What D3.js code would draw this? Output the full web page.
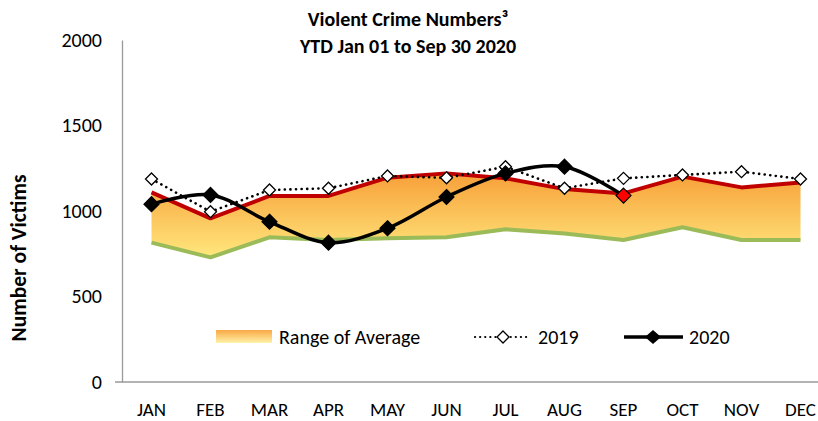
<!DOCTYPE html>
<html>
<head>
<meta charset="utf-8">
<script src="https://cdn.jsdelivr.net/npm/d3@7/dist/d3.min.js"></script>
<style>
  html, body { margin: 0; padding: 0; background: #fff; }
  svg { display: block; font-family: Carlito, Calibri, Lato, "Open Sans", sans-serif; }
</style>
</head>
<body>
<svg id="chart" width="818" height="421"></svg>
<script>
const months = ["JAN","FEB","MAR","APR","MAY","JUN","JUL","AUG","SEP","OCT","NOV","DEC"];
const avgHigh = [1109, 957, 1088, 1088, 1195, 1220, 1191, 1128, 1103, 1201, 1138, 1166];
const avgLow  = [815, 729, 846, 830, 840, 846, 893, 869, 830, 905, 830, 830];
const v2019   = [1187, 996, 1123, 1133, 1205, 1194, 1259, 1133, 1191, 1211, 1230, 1187];
const v2020   = [1040, 1094, 937, 815, 899, 1082, 1220, 1259, 1090];
const yTicks  = [0, 500, 1000, 1500, 2000];
const titleLines = ["Violent Crime Numbers\u00B3", "YTD Jan 01 to Sep 30 2020"];
const yLabel = "Number of Victims";
const legendLabels = ["Range of Average", "2019", "2020"];

const FONT = "Carlito, Calibri, Lato, 'Open Sans', sans-serif";
const svg = d3.select("#chart");
const x = d3.scaleBand().domain(months).range([122, 830]).padding(0);
const cx = m => x(m) + x.bandwidth() / 2;
const y = d3.scaleLinear().domain([0, 2000]).range([382, 40]);

// gradient
const defs = svg.append("defs");
const grad = defs.append("linearGradient").attr("id", "rangeGrad")
  .attr("gradientUnits", "userSpaceOnUse")
  .attr("x1", 0).attr("x2", 0).attr("y1", y(1260)).attr("y2", y(720));
grad.append("stop").attr("offset", "0%").attr("stop-color", "#F79A33");
grad.append("stop").attr("offset", "100%").attr("stop-color", "#FFE97F");
const lgrad = defs.append("linearGradient").attr("id", "legGrad")
  .attr("x1", 0).attr("x2", 0).attr("y1", 0).attr("y2", 1);
lgrad.append("stop").attr("offset", "0%").attr("stop-color", "#F9A845");
lgrad.append("stop").attr("offset", "100%").attr("stop-color", "#FFF3A8");

// Title
svg.append("g").selectAll("text").data(titleLines).join("text")
  .attr("x", 408).attr("y", (d, i) => 26 + i * 27)
  .attr("text-anchor", "middle").attr("font-weight", "bold")
  .attr("font-size", 20).attr("fill", "#000").text(d => d);

// Y axis
const yAxis = d3.axisLeft(y).tickValues(yTicks).tickSize(0).tickPadding(20).tickFormat(d3.format("d"));
const gy = svg.append("g").attr("transform", "translate(122,0)").call(yAxis);
gy.select(".domain").attr("stroke", "#9a9a9a").attr("stroke-width", 1.3);
gy.selectAll("text").attr("font-size", 20).attr("fill", "#000").style("font-family", FONT);

// X axis
const xAxis = d3.axisBottom(x).tickSize(0);
const gx = svg.append("g").attr("transform", "translate(0,382)").call(xAxis);
gx.select(".domain").attr("stroke", "#9a9a9a").attr("stroke-width", 1.3).attr("d", "M115,0H830");
gx.selectAll("text").attr("font-size", 19).attr("fill", "#000").attr("dy", null).attr("y", 34)
  .style("font-family", FONT);

// Y label
svg.append("text").attr("transform", "translate(26,258) rotate(-90)")
  .attr("text-anchor", "middle").attr("font-weight", "bold").attr("font-size", 21.5)
  .text(yLabel);

// Area
const rangeData = months.map((m, i) => ({ m, hi: avgHigh[i], lo: avgLow[i] }));
svg.append("path").datum(rangeData)
  .attr("fill", "url(#rangeGrad)")
  .attr("d", d3.area().x(d => cx(d.m)).y0(d => y(d.lo)).y1(d => y(d.hi)));
svg.append("path").datum(rangeData).attr("fill", "none").attr("stroke", "#9BBB59")
  .attr("stroke-width", 4).attr("stroke-linejoin", "round")
  .attr("d", d3.line().x(d => cx(d.m)).y(d => y(d.lo)));
svg.append("path").datum(rangeData).attr("fill", "none").attr("stroke", "#C00000")
  .attr("stroke-width", 4).attr("stroke-linejoin", "round")
  .attr("d", d3.line().x(d => cx(d.m)).y(d => y(d.hi)));

// 2019
const d19 = months.map((m, i) => ({ m, v: v2019[i] }));
svg.append("path").datum(d19).attr("fill", "none").attr("stroke", "#000")
  .attr("stroke-width", 2.6).attr("stroke-dasharray", "0.1 5.5").attr("stroke-linecap", "round")
  .attr("d", d3.line().x(d => cx(d.m)).y(d => y(d.v)));
const diamond = (w, h) => `M0,${-h}L${w},0L0,${h}L${-w},0Z`;
svg.append("g").selectAll("path").data(d19).join("path")
  .attr("transform", d => `translate(${cx(d.m)},${y(d.v)})`)
  .attr("d", diamond(6, 6)).attr("fill", "#fff").attr("stroke", "#000").attr("stroke-width", 1.3);

// 2020
const d20 = v2020.map((v, i) => ({ m: months[i], v }));
svg.append("path").datum(d20).attr("fill", "none").attr("stroke", "#000")
  .attr("stroke-width", 3.5)
  .attr("d", d3.line().curve(d3.curveCatmullRom.alpha(0.5)).x(d => cx(d.m)).y(d => y(d.v)));
svg.append("g").selectAll("path").data(d20).join("path")
  .attr("transform", d => `translate(${cx(d.m)},${y(d.v)})`)
  .attr("d", diamond(7.5, 7.5))
  .attr("fill", (d, i) => i === d20.length - 1 ? "#FF0000" : "#000")
  .attr("stroke", "#000").attr("stroke-width", 1.2);

// Legend
const lg = svg.append("g").style("font-family", FONT);
lg.append("rect").attr("x", 216).attr("y", 330).attr("width", 56).attr("height", 13).attr("fill", "url(#legGrad)");
lg.append("text").attr("x", 279).attr("y", 344).attr("font-size", 20).text(legendLabels[0]);
lg.append("line").attr("x1", 475).attr("x2", 531).attr("y1", 337).attr("y2", 337)
  .attr("stroke", "#000").attr("stroke-width", 2.2).attr("stroke-dasharray", "0.1 5").attr("stroke-linecap", "round");
lg.append("path").attr("transform", "translate(503,337)").attr("d", diamond(6, 6))
  .attr("fill", "#fff").attr("stroke", "#000").attr("stroke-width", 1.3);
lg.append("text").attr("x", 538).attr("y", 344).attr("font-size", 20).text(legendLabels[1]);
lg.append("line").attr("x1", 624).attr("x2", 683).attr("y1", 337).attr("y2", 337)
  .attr("stroke", "#000").attr("stroke-width", 3.5);
lg.append("path").attr("transform", "translate(653,337)").attr("d", diamond(8, 7))
  .attr("fill", "#000");
lg.append("text").attr("x", 689).attr("y", 344).attr("font-size", 20).text(legendLabels[2]);
</script>
</body>
</html>
